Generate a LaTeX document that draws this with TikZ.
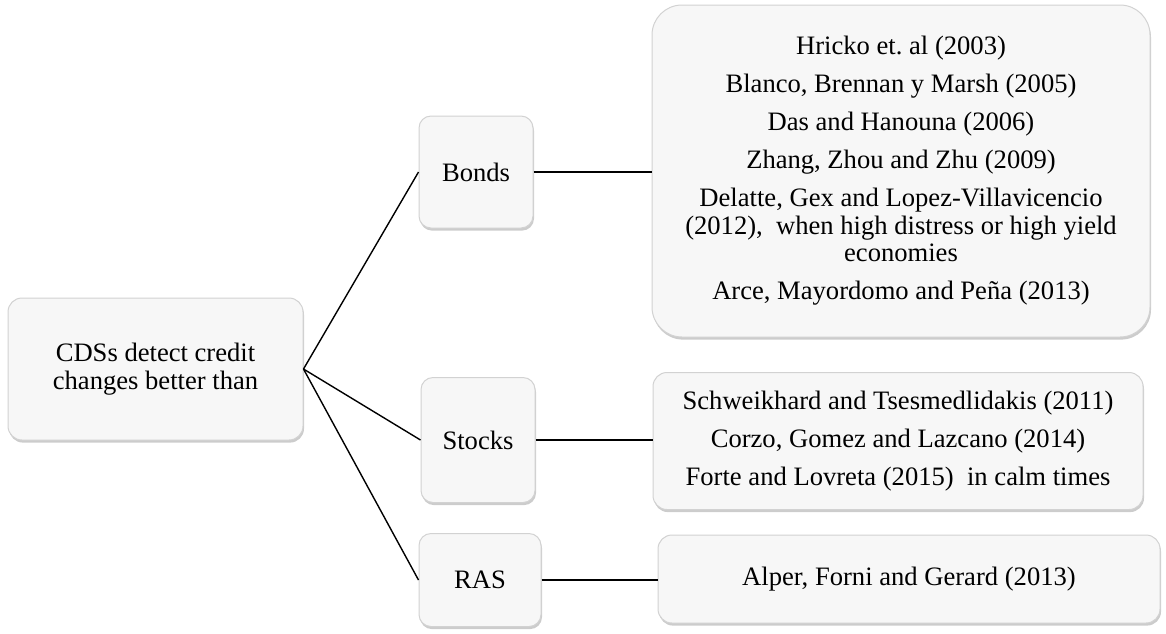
\documentclass[tikz,border=0pt]{standalone}
\usepackage{fontspec}
\setmainfont{Liberation Serif}
\usetikzlibrary{shadows}
\frenchspacing

\begin{document}
\begin{tikzpicture}[x=0.5pt, y=-0.5pt]
		\tikzset{
			every node/.style={
				draw=gray!35,
				fill=gray!6,
				align=center,
				line width=0.5pt,
				inner sep=0pt,
				font=\fontsize{13.3}{13.7}\selectfont,
				drop shadow={shadow xshift=0.5pt, shadow yshift=-1.3pt,
					opacity=0.4, fill=gray}
			},
			rootbox/.style={
				rounded corners=7pt,
				minimum width=147.5pt,
				minimum height=71pt
			},
			topic/.style={
				rounded corners=6pt,
				minimum width=57pt
			},
			refs/.style={
				rounded corners=7pt,
				minimum width=247pt
			},
			link/.style={
				line width=0.7pt
			}
		}

		\useasboundingbox (0,0) rectangle (1166,633);

		\node[rootbox] (cds) at (155.5, 369)
			{CDSs detect credit\\changes better than};

		\node[topic, minimum height=56pt] (bonds) at (476, 172)
			{Bonds};
		\node[topic, minimum height=62.5pt] (stocks) at (478, 440)
			{Stocks};
		\node[topic, minimum width=61pt, minimum height=46.5pt] (ras) at (480, 580)
			{RAS};

		\node[refs, rounded corners=15pt, minimum width=249pt, minimum height=166pt]
			(bonds-refs) at (901, 171)
			{Hricko et. al (2003)\\[5.3pt]
			 Blanco, Brennan y Marsh (2005)\\[5.3pt]
			 Das and Hanouna (2006)\\[5.3pt]
			 Zhang, Zhou and Zhu (2009)\\[5.3pt]
			 Delatte, Gex and Lopez-Villavicencio\\
			 (2012),\ \ when high distress or high yield\\
			 economies\\[5.3pt]
			 Arce, Mayordomo and Peña (2013)};
		\node[refs, minimum width=245pt, minimum height=68.5pt]
			(stocks-refs) at (898, 441)
			{Schweikhard and Tsesmedlidakis (2011)\\[5.3pt]
			 Corzo, Gomez and Lazcano (2014)\\[5.3pt]
			 Forte and Lovreta (2015)\ \ in calm times};
		\node[refs, minimum width=251pt, minimum height=44pt]
			(ras-refs) at (909, 579)
			{Alper, Forni and Gerard (2013)};

		\draw[link] (cds.east) -- (bonds.west);
		\draw[link] (cds.east) -- (stocks.west);
		\draw[link] (cds.east) -- (ras.west);

		\draw[link] (bonds.east) -- (bonds.east -| bonds-refs.west);
		\draw[link] (stocks.east) -- (stocks.east -| stocks-refs.west);
		\draw[link] (ras.east) -- (ras.east -| ras-refs.west);

	\end{tikzpicture}
\end{document}
